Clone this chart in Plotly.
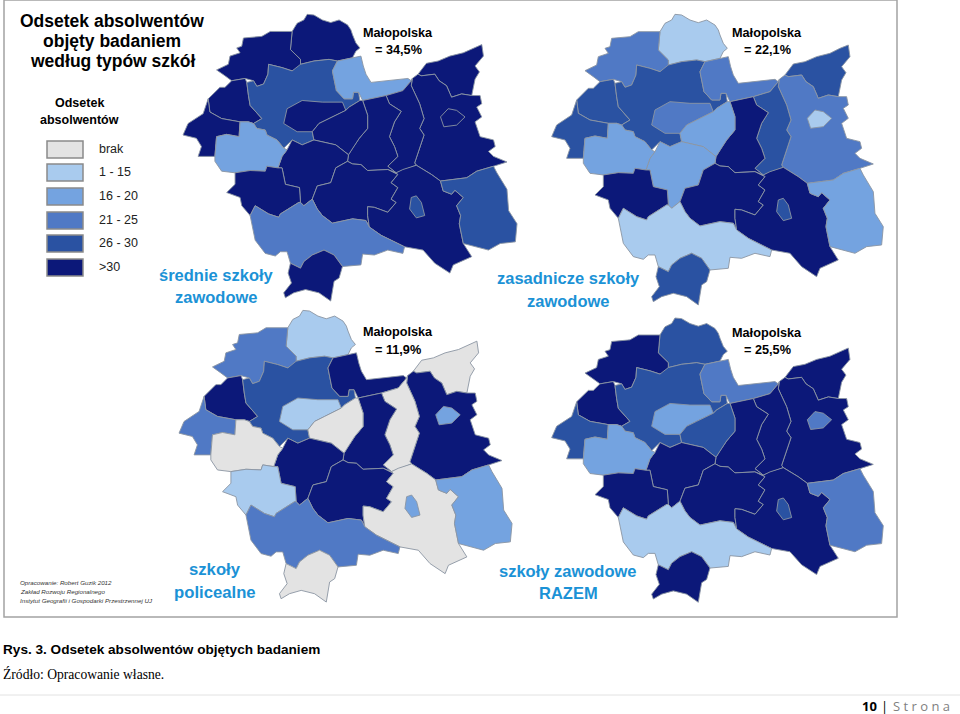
# Odsetek absolwentow - four choropleth panels of Malopolska powiats
import plotly.graph_objects as go

# county outlines (drawing order matters: cities last)
COUNTIES = {
    "miechowski": [(510,95),(525,70),(545,60),(555,43),(575,45),(600,60),(625,68),(650,60),(675,75),(685,90),(690,105),(700,130),(712,145),(700,155),(690,175),(645,185),(620,180),(575,185),(535,195),(535,180),(505,150)],
    "olkuski": [(510,95),(480,95),(445,95),(420,110),(365,115),(360,140),(345,145),(355,160),(325,170),(320,195),(285,212),(310,230),(330,245),(370,238),(395,245),(405,262),(425,255),(438,225),(440,195),(480,205),(510,215),(535,205),(535,180),(505,150)],
    "chrzanowski": [(370,238),(330,245),(310,265),(295,265),(260,300),(265,340),(300,360),(355,370),(380,370),(395,375),(420,360),(385,320),(380,290),(375,250)],
    "oswiecimski": [(260,300),(265,340),(300,360),(355,370),(352,415),(315,408),(285,415),(280,475),(230,475),(240,445),(225,420),(185,410),(200,375),(245,345)],
    "krakowski": [(375,250),(395,245),(405,262),(425,255),(438,225),(440,195),(480,205),(510,215),(535,195),(575,185),(620,180),(645,185),(630,215),(642,275),(665,300),(690,300),(693,280),(708,280),(712,305),(680,325),(670,335),(620,360),(590,375),(570,400),(575,425),(540,440),(510,425),(485,450),(465,425),(435,410),(430,395),(405,390),(395,375),(420,360),(385,320),(380,290)],
    "krakow": [(485,375),(495,330),(540,305),(600,310),(660,310),(670,335),(620,360),(590,375),(570,400),(525,400)],
    "proszowicki": [(645,185),(690,175),(715,170),(722,200),(730,225),(745,250),(800,245),(855,238),(865,245),(840,275),(790,290),(720,305),(708,280),(693,280),(690,300),(665,300),(642,275),(630,215)],
    "dabrowski": [(885,225),(910,192),(945,185),(980,170),(1020,160),(1050,145),(1075,135),(1080,170),(1055,200),(1068,218),(1055,240),(1045,290),(1015,285),(985,295),(970,260),(948,245),(935,225),(895,230)],
    "tarnowski": [(868,238),(885,225),(895,230),(935,225),(948,245),(970,260),(985,295),(1015,285),(1045,290),(1070,290),(1075,315),(1060,325),(1075,355),(1055,370),(1070,415),(1110,425),(1115,445),(1095,460),(1110,475),(1150,492),(1110,505),(1060,520),(1030,540),(952,550),(925,530),(880,502),(875,495),(895,435),(903,410),(890,390),(903,360),(890,315),(865,260)],
    "tarnow": [(952,355),(975,330),(1000,335),(1025,355),(1000,380),(962,385)],
    "brzeski": [(790,290),(840,275),(865,245),(868,238),(865,260),(890,315),(903,360),(890,390),(903,410),(895,435),(875,495),(880,502),(820,525),(795,505),(825,475),(815,445),(800,415),(815,370),(835,338),(800,315)],
    "bochenski": [(720,305),(790,290),(800,315),(835,338),(815,370),(800,415),(815,445),(825,475),(795,505),(820,525),(795,515),(735,518),(715,500),(690,498),(675,490),(678,470),(690,450),(710,420),(735,390),(735,350)],
    "wielicki": [(712,305),(720,305),(735,350),(735,390),(710,420),(690,450),(678,470),(640,440),(600,430),(575,425),(570,400),(590,375),(620,360),(670,335),(680,325)],
    "myslenicki": [(510,425),(540,440),(575,425),(600,430),(640,440),(678,470),(675,490),(640,510),(625,555),(585,565),(570,605),(545,625),(535,615),(532,570),(490,560),(480,510),(468,510),(480,475),(495,455)],
    "wadowicki": [(355,370),(380,370),(395,375),(405,390),(430,395),(435,410),(465,425),(485,450),(495,455),(480,475),(468,510),(435,505),(430,520),(385,518),(340,525),(300,520),(280,490),(280,475),(285,415),(315,408),(352,415)],
    "suski": [(340,525),(385,518),(430,520),(435,505),(468,510),(480,510),(490,560),(532,570),(535,615),(530,615),(475,650),(470,660),(440,650),(400,625),(385,655),(360,625),(355,600),(315,585),(340,560)],
    "limanowski": [(675,490),(690,498),(715,500),(735,518),(795,515),(825,530),(805,555),(825,570),(805,605),(820,615),(795,645),(755,630),(735,628),(735,655),(740,690),(730,670),(690,665),(630,678),(600,655),(585,635),(570,605),(585,565),(625,555),(640,510)],
    "nowosadecki": [(820,525),(840,515),(880,502),(925,530),(952,550),(960,580),(985,590),(995,578),(1020,600),(1000,625),(1012,655),(1008,680),(1020,740),(1045,780),(990,805),(980,830),(935,800),(900,760),(845,750),(775,715),(740,690),(735,655),(735,628),(755,630),(795,645),(820,615),(805,605),(825,570),(805,555),(825,530)],
    "nowy_sacz": [(860,635),(865,600),(880,595),(895,615),(905,655),(880,662)],
    "gorlicki": [(952,550),(1030,540),(1060,520),(1110,505),(1120,525),(1150,575),(1155,640),(1180,680),(1175,735),(1130,740),(1095,760),(1040,745),(1020,740),(1008,680),(1012,655),(1000,625),(1020,600),(995,578),(985,590),(960,580)],
    "nowotarski": [(385,655),(400,625),(440,650),(470,660),(475,650),(530,615),(535,615),(545,625),(570,605),(585,635),(600,655),(630,678),(690,665),(730,670),(740,690),(775,715),(845,750),(840,770),(795,760),(755,775),(720,772),(715,805),(660,810),(635,775),(605,760),(570,775),(545,795),(535,815),(505,800),(495,765),(475,765),(460,778),(430,770),(400,730)],
    "tatrzanski": [(505,800),(535,815),(545,795),(570,775),(605,760),(635,775),(660,810),(650,845),(635,855),(625,915),(590,890),(550,880),(515,890),(490,905),(485,890),(508,860),(498,830)],
}
NAMES = list(COUNTIES)

# class of each county, same order as NAMES (0 = brak ... 5 = >30)
SREDNIE = [5, 5, 5, 5, 4, 5, 2, 5, 5, 5, 5, 5, 5, 5, 2, 5, 5, 5, 4, 4, 3, 5]
ZASADNICZE = [1, 3, 4, 4, 4, 3, 3, 4, 3, 1, 4, 5, 2, 2, 2, 5, 5, 5, 4, 2, 1, 4]
POLICEALNE = [1, 3, 5, 3, 4, 1, 5, 0, 5, 2, 0, 5, 0, 5, 0, 1, 5, 0, 2, 2, 3, 0]
RAZEM = [4, 5, 5, 4, 4, 2, 3, 5, 5, 3, 5, 5, 4, 5, 2, 5, 5, 5, 4, 3, 1, 5]

LEGEND_LABELS = ["brak", "1 - 15", "16 - 20", "21 - 25", "26 - 30", ">30"]
COLORS = ["#e3e3e3", "#a9cbee", "#74a3e0", "#5079c5", "#2a52a2", "#0c1879"]
BORDER = "#8b95a3"
BLUE_TEXT = "#1b92d6"
SANS = "Liberation Sans"

# scale and offset of each panel on the page
panels = [
    (SREDNIE, 0.3357, 120.9, 0.3288, 0.2),
    (ZASADNICZE, 0.3333, 490, 0.3333, 0),
    (POLICEALNE, 0.3347, 117.1, 0.3345, 296),
    (RAZEM, 0.3333, 490, 0.326, 304),
]

fig = go.Figure()
for classes, sx, ox, sy, oy in panels:
    for name, cls in zip(NAMES, classes):
        pts = COUNTIES[name] + COUNTIES[name][:1]
        fig.add_trace(
            go.Scatter(
                x=[ox + sx * p[0] for p in pts],
                y=[oy + sy * p[1] for p in pts],
                mode="lines",
                fill="toself",
                fillcolor=COLORS[cls],
                line=dict(color=BORDER, width=0.9),
                hoverinfo="skip",
            )
        )


def label(x, y, text, size, color="black", bold=False, family=SANS, **kw):
    if bold:
        text = f"<b>{text}</b>"
    fig.add_annotation(
        x=x, y=y, text=text, showarrow=False,
        font=dict(family=family, size=size, color=color), **kw
    )


label(112, 21, "Odsetek absolwentów", 17.5, bold=True)
label(112, 41, "objęty badaniem", 17.5, bold=True)
label(112, 61, "według typów szkół", 17.5, bold=True)
label(79, 103, "Odsetek", 12.5, bold=True)
label(79, 120, "absolwentów", 12.5, bold=True)

# legend
swatch_tops = [141, 164, 188, 212, 235, 259]
for top, color, text in zip(swatch_tops, COLORS, LEGEND_LABELS):
    fig.add_shape(
        type="rect", x0=47, x1=83, y0=top, y1=top + 17,
        fillcolor=color, line=dict(color="#8a8a8a", width=1.5),
    )
    label(97, top + 8, text, 12.5, color="#222222", xanchor="left")

for x, y1, y2, pct in [
    (398, 33, 50, "= 34,5%"),
    (767, 33, 50, "= 22,1%"),
    (398, 332, 350, "= 11,9%"),
    (767, 333, 350, "= 25,5%"),
]:
    label(x, y1, "Małopolska", 12.7, bold=True)
    label(x, y2, pct, 12.7, bold=True)

label(216, 275, "średnie szkoły", 16.5, BLUE_TEXT, bold=True)
label(216, 297, "zawodowe", 16.5, BLUE_TEXT, bold=True)
label(568, 278, "zasadnicze szkoły", 16.5, BLUE_TEXT, bold=True)
label(568, 301, "zawodowe", 16.5, BLUE_TEXT, bold=True)
label(215, 569, "szkoły", 16.7, BLUE_TEXT, bold=True)
label(215, 592, "policealne", 16.7, BLUE_TEXT, bold=True)
label(568, 571, "szkoły zawodowe", 16.5, BLUE_TEXT, bold=True)
label(568, 593, "RAZEM", 16.5, BLUE_TEXT, bold=True)

credits = [
    "Opracowanie: Robert Guzik 2012",
    "Zakład Rozwoju Regionalnego",
    "Instytut Geografii i Gospodarki Przestrzennej UJ",
]
for y, text in zip([582, 591, 600], credits):
    label(18, y, f"<i>{text}</i>", 6.2, color="#333333", xanchor="left")

label(1, 649, "Rys. 3. Odsetek absolwentów objętych badaniem", 13.6, bold=True, xanchor="left")
label(1, 674, "Źródło: Opracowanie własne.", 13.6, family="Liberation Serif", xanchor="left")
label(879, 706, "10", 13, bold=True, family="Open Sans", xanchor="right")
label(879, 706, "|", 13, family="Open Sans", xanchor="left")
label(891, 706, "S t r o n a", 13, color="#7f7f7f", family="Open Sans", xanchor="left")

# page frame and footer rule
fig.add_shape(type="rect", x0=4, x1=897, y0=0, y1=617, line=dict(color="#a3a3a3", width=1.5), layer="below")
fig.add_shape(type="line", x0=0, x1=960, y0=695, y1=695, line=dict(color="#e2e2e2", width=1))

fig.update_xaxes(range=[0, 960], visible=False)
fig.update_yaxes(range=[714, 0], visible=False)
fig.update_layout(
    width=960,
    height=714,
    margin=dict(l=0, r=0, t=0, b=0),
    showlegend=False,
    paper_bgcolor="white",
    plot_bgcolor="white",
)
# the browser's default body margin would push the picture off its place
fig.write_html(
    "out.html",
    config={"displayModeBar": False},
    post_script="document.body.style.margin='0';",
)
